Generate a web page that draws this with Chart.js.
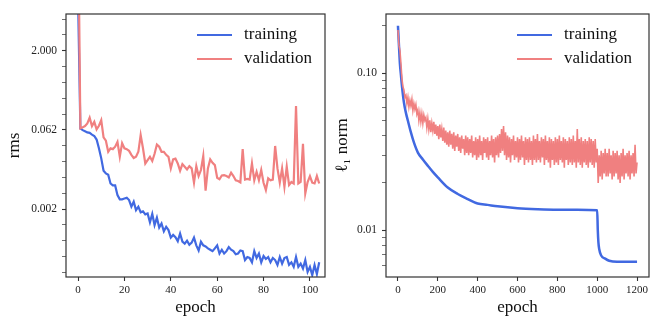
<!DOCTYPE html>
<html>
<head>
<meta charset="utf-8">
<script src="https://cdn.jsdelivr.net/npm/chart.js@4.4.1/dist/chart.umd.min.js"></script>
<style>
    html, body { margin: 0; padding: 0; background: #ffffff; }
    #wrap { position: relative; width: 664px; height: 326px; }
    canvas { position: absolute; top: 0; }
    #rmsChart { left: 0; }
    #normChart { left: 332px; }
</style>
</head>
<body>
<div id="wrap">
    <canvas id="rmsChart" width="332" height="326"></canvas>
    <canvas id="normChart" width="332" height="326"></canvas>
</div>
<script>
// ---- left panel: rms per epoch (log base 2 axis) ----
const rmsEpochs = Array.from({ length: 105 }, (_, i) => i);
const rmsTraining = [
    20, 0.0668, 0.062, 0.059, 0.056, 0.055, 0.051, 0.048, 0.041, 0.028,
    0.018, 0.0105, 0.0093, 0.0088, 0.0060, 0.0055, 0.0055, 0.0036, 0.0030, 0.0030,
    0.0031, 0.0032, 0.0029, 0.00217, 0.0027, 0.00187, 0.00217, 0.00170, 0.00177, 0.00155,
    0.00161, 0.00110, 0.00158, 0.00097, 0.00134, 0.00087, 0.00104, 0.00074, 0.00090, 0.00078,
    0.00056, 0.00063, 0.00057, 0.00048, 0.00067, 0.00047, 0.00043, 0.00049, 0.00041, 0.00045,
    0.00056, 0.00040, 0.00032, 0.00047, 0.00040, 0.00038, 0.00035, 0.00033, 0.00031, 0.00035,
    0.00040, 0.00028, 0.00033, 0.00028, 0.00031, 0.00037, 0.00033, 0.00031, 0.00027, 0.00028,
    0.00032, 0.00031, 0.00021, 0.00024, 0.00023, 0.00019, 0.00031, 0.00023, 0.00028, 0.00019,
    0.00025, 0.00022, 0.00024, 0.00019, 0.00023, 0.00021, 0.00017, 0.00024, 0.00018, 0.00023,
    0.00024, 0.00017, 0.00019, 0.000156, 0.00024, 0.000156, 0.00018, 0.000145, 0.00021, 0.000125,
    0.000156, 0.000109, 0.000168, 0.000114, 0.00019
];
const rmsValidation = [
    1000, 0.067, 0.070, 0.074, 0.083, 0.107, 0.074, 0.089, 0.064, 0.075,
    0.096, 0.045, 0.039, 0.024, 0.028, 0.027, 0.030, 0.037, 0.0193, 0.035,
    0.028, 0.027, 0.025, 0.021, 0.0183, 0.0193, 0.024, 0.050, 0.028, 0.0144,
    0.0167, 0.0193, 0.016, 0.022, 0.033, 0.030, 0.024, 0.024, 0.021, 0.0193,
    0.0116, 0.0172, 0.0178, 0.0144, 0.0105, 0.0140, 0.0125, 0.0111, 0.0128, 0.0116,
    0.0062, 0.0128, 0.0083, 0.0108, 0.0200, 0.0044, 0.0116, 0.0172, 0.0148, 0.0134,
    0.0077, 0.0072, 0.0085, 0.0086, 0.0083, 0.0078, 0.0096, 0.0083, 0.0069, 0.0067,
    0.0063, 0.027, 0.0071, 0.0073, 0.0071, 0.0144, 0.0069, 0.0100, 0.0069, 0.0108,
    0.0062, 0.0045, 0.0075, 0.0069, 0.0071, 0.031, 0.0116, 0.0062, 0.0116, 0.0052,
    0.0125, 0.0056, 0.0064, 0.0060, 0.178, 0.0060, 0.0064, 0.034, 0.0039, 0.0064,
    0.0083, 0.0062, 0.0060, 0.0083, 0.0060
];
const rmsXTicks = [0, 20, 40, 60, 80, 100];
const rmsMajorTicks = [2, 0.0625, 0.001953125];
const rmsTickLabels = ['2.000', '0.062', '0.002'];
const rmsMinorTicks = [8, 4, 1, 0.5, 0.25, 0.125, 0.03125, 0.015625, 0.0078125, 0.00390625,
    0.0009765625, 0.00048828125, 0.000244140625, 0.0001220703125];

// ---- right panel: l1 norm per epoch ----
const normTrainEpochs = [0, 5, 10, 15, 20, 30, 40, 50, 65, 80, 100, 125, 150, 175, 200, 250, 300,
    350, 400, 450, 500, 600, 700, 800, 900, 1000, 1003, 1006, 1010, 1020, 1040, 1060, 1100, 1150, 1200];
const normTraining = [0.200, 0.150, 0.114, 0.097, 0.083, 0.065, 0.0558, 0.0497, 0.0419, 0.0362,
    0.0312, 0.0282, 0.0257, 0.0235, 0.0217, 0.0187, 0.0170, 0.0158, 0.0148, 0.0145, 0.0142,
    0.0138, 0.0136, 0.0135, 0.0135, 0.0134, 0.0100, 0.0084, 0.0076, 0.0069, 0.0066, 0.0064,
    0.0063, 0.0063, 0.0063];
const normValEpochs = Array.from({ length: 241 }, (_, i) => i * 5);
const normValidation = [
    0.188, 0.150, 0.139, 0.115, 0.092, 0.082, 0.078, 0.070, 0.072, 0.064,
    0.070, 0.061, 0.067, 0.062, 0.068, 0.058, 0.064, 0.059, 0.063, 0.055,
    0.058, 0.050, 0.056, 0.049, 0.055, 0.048, 0.054, 0.050, 0.052, 0.045,
    0.051, 0.044, 0.050, 0.042, 0.048, 0.043, 0.049, 0.041, 0.047, 0.040,
    0.046, 0.038, 0.047, 0.039, 0.044, 0.037, 0.045, 0.036, 0.043, 0.035,
    0.042, 0.034, 0.043, 0.035, 0.041, 0.033, 0.042, 0.032, 0.040, 0.034,
    0.041, 0.032, 0.039, 0.031, 0.040, 0.033, 0.038, 0.030, 0.040, 0.031,
    0.039, 0.030, 0.038, 0.031, 0.040, 0.029, 0.037, 0.030, 0.039, 0.028,
    0.038, 0.029, 0.040, 0.030, 0.037, 0.028, 0.039, 0.031, 0.038, 0.029,
    0.039, 0.028, 0.037, 0.030, 0.040, 0.029, 0.038, 0.027, 0.039, 0.030,
    0.040, 0.029, 0.041, 0.031, 0.044, 0.032, 0.046, 0.030, 0.042, 0.028,
    0.040, 0.029, 0.039, 0.027, 0.038, 0.030, 0.040, 0.028, 0.037, 0.029,
    0.039, 0.027, 0.038, 0.028, 0.040, 0.029, 0.037, 0.026, 0.039, 0.028,
    0.038, 0.027, 0.039, 0.028, 0.037, 0.026, 0.040, 0.028, 0.038, 0.027,
    0.041, 0.028, 0.037, 0.027, 0.039, 0.029, 0.038, 0.026, 0.040, 0.028,
    0.037, 0.027, 0.039, 0.025, 0.038, 0.028, 0.037, 0.026, 0.039, 0.027,
    0.038, 0.026, 0.040, 0.028, 0.037, 0.027, 0.039, 0.025, 0.038, 0.028,
    0.037, 0.026, 0.039, 0.027, 0.038, 0.026, 0.040, 0.027, 0.037, 0.025,
    0.044, 0.027, 0.038, 0.026, 0.039, 0.025, 0.037, 0.027, 0.038, 0.026,
    0.037, 0.025, 0.039, 0.027, 0.038, 0.026, 0.037, 0.025, 0.038, 0.027,
    0.033, 0.020, 0.030, 0.022, 0.032, 0.021, 0.031, 0.023, 0.033, 0.022,
    0.031, 0.022, 0.033, 0.023, 0.030, 0.021, 0.032, 0.022, 0.031, 0.023,
    0.032, 0.021, 0.030, 0.020, 0.031, 0.022, 0.033, 0.021, 0.030, 0.023,
    0.031, 0.022, 0.032, 0.021, 0.030, 0.023, 0.031, 0.022, 0.035, 0.023,
    0.027
];
const normXTicks = [0, 200, 400, 600, 800, 1000, 1200];
const normMajorTicks = [0.1, 0.01];
const normTickLabels = ['0.10', '0.01'];
const normMinorTicks = [0.006, 0.007, 0.008, 0.009, 0.02, 0.03, 0.04, 0.05, 0.06, 0.07, 0.08, 0.09, 0.2];

const SERIF = '"Liberation Serif", "Times New Roman", serif';
const BLUE = '#4169e1';
const RED = '#f08080';
const INK = '#333333';

// frame around the axes, like matplotlib spines
const framePlugin = {
    id: 'frame',
    afterDraw(chart) {
        const { ctx, chartArea: a } = chart;
        ctx.save();
        ctx.strokeStyle = INK;
        ctx.lineWidth = 1.2;
        ctx.strokeRect(a.left, a.top, a.right - a.left, a.bottom - a.top);
        ctx.restore();
    }
};

// legend drawn inside the upper right corner
const insideLegend = {
    id: 'insideLegend',
    afterDraw(chart, args, opts) {
        const { ctx, chartArea: a } = chart;
        const x0 = a.right - opts.offset;
        ctx.save();
        ctx.font = '17px ' + SERIF;
        ctx.textBaseline = 'middle';
        ctx.fillStyle = '#111';
        chart.data.datasets.forEach((ds, i) => {
            const y = a.top + 21 + i * 24;
            ctx.strokeStyle = ds.borderColor;
            ctx.lineWidth = 2;
            ctx.beginPath();
            ctx.moveTo(x0, y);
            ctx.lineTo(x0 + 35, y);
            ctx.stroke();
            ctx.fillText(ds.label, x0 + 47, y);
        });
        ctx.restore();
    }
};

function pairs(xs, ys) {
    return xs.map((x, i) => ({ x, y: ys[i] }));
}

function logAxis(min, max, majors, labels, minors, width, title, titlePad) {
    return {
        type: 'logarithmic',
        min, max,
        afterBuildTicks: scale => {
            scale.ticks = majors.concat(minors).map(v => ({ value: v }));
        },
        afterFit: scale => { scale.width = width; },
        ticks: {
            autoSkip: false,
            padding: 5,
            color: '#222',
            font: { family: SERIF, size: 11.5 },
            callback: v => {
                const i = majors.indexOf(v);
                return i >= 0 ? labels[i] : '';
            }
        },
        grid: {
            drawOnChartArea: false,
            tickLength: 4,
            tickColor: INK,
            tickWidth: ctx => (ctx.tick && majors.includes(ctx.tick.value) ? 1.1 : 0.7)
        },
        border: { display: false },
        title: {
            display: true,
            text: title,
            color: '#111',
            font: { family: SERIF, size: 17, lineHeight: 1 },
            padding: { top: titlePad, bottom: 0 }
        }
    };
}

function epochAxis(min, max, ticks) {
    return {
        type: 'linear',
        min, max,
        afterBuildTicks: scale => { scale.ticks = ticks.map(v => ({ value: v })); },
        afterFit: scale => { scale.height = 49; },
        ticks: {
            autoSkip: false,
            maxRotation: 0,
            padding: 3,
            color: '#222',
            font: { family: SERIF, size: 11 },
            callback: v => String(v)
        },
        grid: { drawOnChartArea: false, tickLength: 4, tickColor: INK, tickWidth: 1.1 },
        border: { display: false },
        title: {
            display: true,
            text: 'epoch',
            color: '#111',
            font: { family: SERIF, size: 17, lineHeight: 1.2 },
            padding: { top: 0, bottom: 8 }
        }
    };
}

function baseOptions(legendOffset, padLeft, padRight) {
    return {
        responsive: false,
        animation: false,
        events: [],
        layout: { padding: { top: 14, left: padLeft, right: padRight, bottom: 0 } },
        plugins: {
            legend: { display: false },
            tooltip: { enabled: false },
            insideLegend: { offset: legendOffset }
        }
    };
}

const rmsOptions = baseOptions(128, 0, 7);
rmsOptions.scales = {
    x: epochAxis(-5.2, 106.5, rmsXTicks),
    y: logAxis(1e-4, 10, rmsMajorTicks, rmsTickLabels, rmsMinorTicks, 66, 'rms', 6)
};

new Chart(document.getElementById('rmsChart'), {
    type: 'line',
    data: {
        datasets: [
            { label: 'training', data: pairs(rmsEpochs, rmsTraining), borderColor: BLUE,
              borderWidth: 2.2, pointRadius: 0, order: 2, clip: 0 },
            { label: 'validation', data: pairs(rmsEpochs, rmsValidation), borderColor: RED,
              borderWidth: 2.2, pointRadius: 0, order: 1, clip: 0 }
        ]
    },
    options: rmsOptions,
    plugins: [framePlugin, insideLegend]
});

const normOptions = baseOptions(132, 0, 15);
normOptions.scales = {
    x: epochAxis(-60, 1260, normXTicks),
    y: logAxis(0.00504, 0.2376, normMajorTicks, normTickLabels, normMinorTicks, 54, 'ℓ₁ norm', 2)
};

new Chart(document.getElementById('normChart'), {
    type: 'line',
    data: {
        datasets: [
            { label: 'training', data: pairs(normTrainEpochs, normTraining), borderColor: BLUE,
              borderWidth: 2.5, pointRadius: 0, cubicInterpolationMode: 'monotone', order: 2, clip: 0 },
            { label: 'validation', data: pairs(normValEpochs, normValidation), borderColor: RED,
              borderWidth: 1.6, pointRadius: 0, order: 1, clip: 0 }
        ]
    },
    options: normOptions,
    plugins: [framePlugin, insideLegend]
});
</script>
</body>
</html>
